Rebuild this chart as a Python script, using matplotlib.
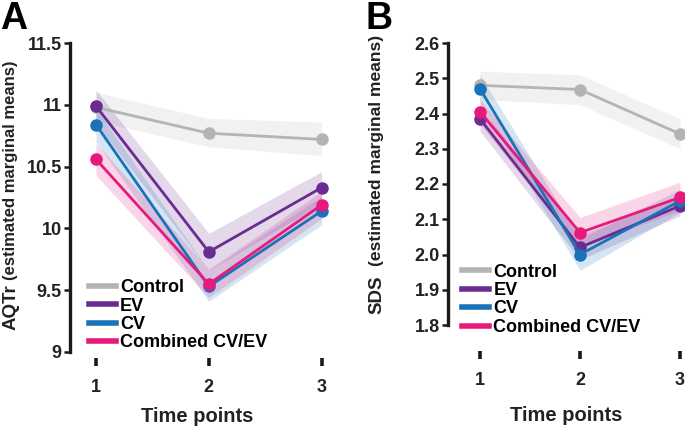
import matplotlib
matplotlib.use("Agg")
import matplotlib.pyplot as plt

plt.rcParams['font.family'] = ['Liberation Sans', 'DejaVu Sans']
plt.rcParams['font.weight'] = 'bold'

# time points
x = [1, 2, 3]
groups = ["Control", "EV", "CV", "Combined CV/EV"]
colors = ["#b4b4b4", "#6a2c91", "#1a72b8", "#e8197d"]

# panel A: AQTr means and CI bounds
aqtr_mean = {
    "Control": [10.98, 10.77, 10.72],
    "EV": [10.99, 9.81, 10.33],
    "CV": [10.84, 9.53, 10.14],
    "Combined CV/EV": [10.56, 9.55, 10.19],
}
aqtr_lo = {
    "Control": [10.87, 10.66, 10.59],
    "EV": [10.85, 9.66, 10.20],
    "CV": [10.70, 9.41, 10.03],
    "Combined CV/EV": [10.43, 9.44, 10.08],
}
aqtr_hi = {
    "Control": [11.10, 10.89, 10.86],
    "EV": [11.12, 9.96, 10.46],
    "CV": [10.97, 9.66, 10.26],
    "Combined CV/EV": [10.69, 9.67, 10.30],
}
aqtr_ticks = [9, 9.5, 10, 10.5, 11, 11.5]
aqtr_ticklabels = ["9", "9.5", "10", "10.5", "11", "11.5"]

# panel B: SDS means and CI bounds
sds_mean = {
    "Control": [2.48, 2.468, 2.342],
    "EV": [2.385, 2.02, 2.138],
    "CV": [2.47, 2.0, 2.152],
    "Combined CV/EV": [2.405, 2.062, 2.162],
}
sds_lo = {
    "Control": [2.44, 2.425, 2.30],
    "EV": [2.35, 1.985, 2.11],
    "CV": [2.43, 1.955, 2.12],
    "Combined CV/EV": [2.37, 2.02, 2.125],
}
sds_hi = {
    "Control": [2.52, 2.51, 2.385],
    "EV": [2.42, 2.055, 2.165],
    "CV": [2.51, 2.045, 2.185],
    "Combined CV/EV": [2.44, 2.105, 2.205],
}
sds_ticks = [1.8, 1.9, 2.0, 2.1, 2.2, 2.3, 2.4, 2.5, 2.6]
sds_ticklabels = ["1.8", "1.9", "2.0", "2.1", "2.2", "2.3", "2.4", "2.5", "2.6"]

W, H = 685, 428
fig = plt.figure(figsize=(6.85, 4.28), dpi=100)

def px_axes(l, r, top, bot):
    return fig.add_axes([l / W, 1 - bot / H, (r - l) / W, (bot - top) / H])

axA = px_axes(70, 325, 43, 352)
axB = px_axes(448, 685, 43, 325)


def draw(ax, mean, lo, hi, ticks, ticklabels, xlim, ylim, outward, labelpad):
    for g, c in zip(groups, colors):
        ax.fill_between(x, lo[g], hi[g], color=c, alpha=0.18, lw=0)
    for g, c in zip(groups, colors):
        ax.plot(x, mean[g], color=c, lw=2.0, marker="o", ms=8, label=g,
                clip_on=False, zorder=3)
    ax.set_xlim(*xlim)
    ax.set_ylim(*ylim)
    ax.set_yticks(ticks)
    ax.set_yticklabels(ticklabels)
    ax.set_xticks(x)
    ax.set_xticklabels(["1", "2", "3"])
    for s in ["top", "right"]:
        ax.spines[s].set_visible(False)
    ax.spines["bottom"].set_position(("outward", outward))
    ax.spines["bottom"].set_visible(False)
    ax.spines["left"].set_linewidth(2.4)
    ax.spines["left"].set_color("#1a1a1a")
    ax.tick_params(axis="y", length=4, width=1.8, pad=2, labelsize=13,
                   color="#1a1a1a", labelcolor="#222222")
    ax.tick_params(axis="x", length=6, width=2.6, pad=9, labelsize=13,
                   color="#1a1a1a", labelcolor="#222222")
    ax.set_xlabel("Time points", fontsize=14.5, fontweight="bold",
                  color="#222222", labelpad=labelpad)
    ax.patch.set_alpha(0)


draw(axA, aqtr_mean, aqtr_lo, aqtr_hi, aqtr_ticks, aqtr_ticklabels,
     (0.77, 3.03), (9, 11.5), 4.5, 8)
draw(axB, sds_mean, sds_lo, sds_hi, sds_ticks, sds_ticklabels,
     (0.68, 3.05), (1.8, 2.6), 19, 12)

leg_kw = dict(loc="upper left", frameon=False, fontsize=13,
              handlelength=1.5, handletextpad=0.22, labelspacing=0.08,
              borderpad=0, borderaxespad=0)
axA.legend(bbox_to_anchor=(0.075, 0.236), **leg_kw)
axB.legend(bbox_to_anchor=(0.06, 0.218), **leg_kw)
for ax in (axA, axB):
    leg = ax.get_legend()
    for h in leg.legend_handles:
        h.set_marker("")
        h.set_linewidth(4)

# y labels: bold short name plus smaller description
fig.text(11 / W, 1 - 307 / H, "AQTr", rotation=90, ha="center", va="center",
         fontsize=13.5, fontweight="bold", color="#222222")
fig.text(11 / W, 1 - 170 / H, "(estimated marginal means)", rotation=90,
         ha="center", va="center", fontsize=12, fontweight="bold",
         color="#222222")
fig.text(377 / W, 1 - 295 / H, "SDS", rotation=90, ha="center", va="center",
         fontsize=13.5, fontweight="bold", color="#222222")
fig.text(377 / W, 1 - 150 / H, "(estimated marginal means)", rotation=90,
         ha="center", va="center", fontsize=12.6, fontweight="bold",
         color="#222222")

fig.text(0 / W, 1 - 1 / H, "A", fontsize=27, fontweight="bold", va="top")
fig.text(366 / W, 1 - 1 / H, "B", fontsize=27, fontweight="bold", va="top")

fig.savefig("out.png", dpi=100)
